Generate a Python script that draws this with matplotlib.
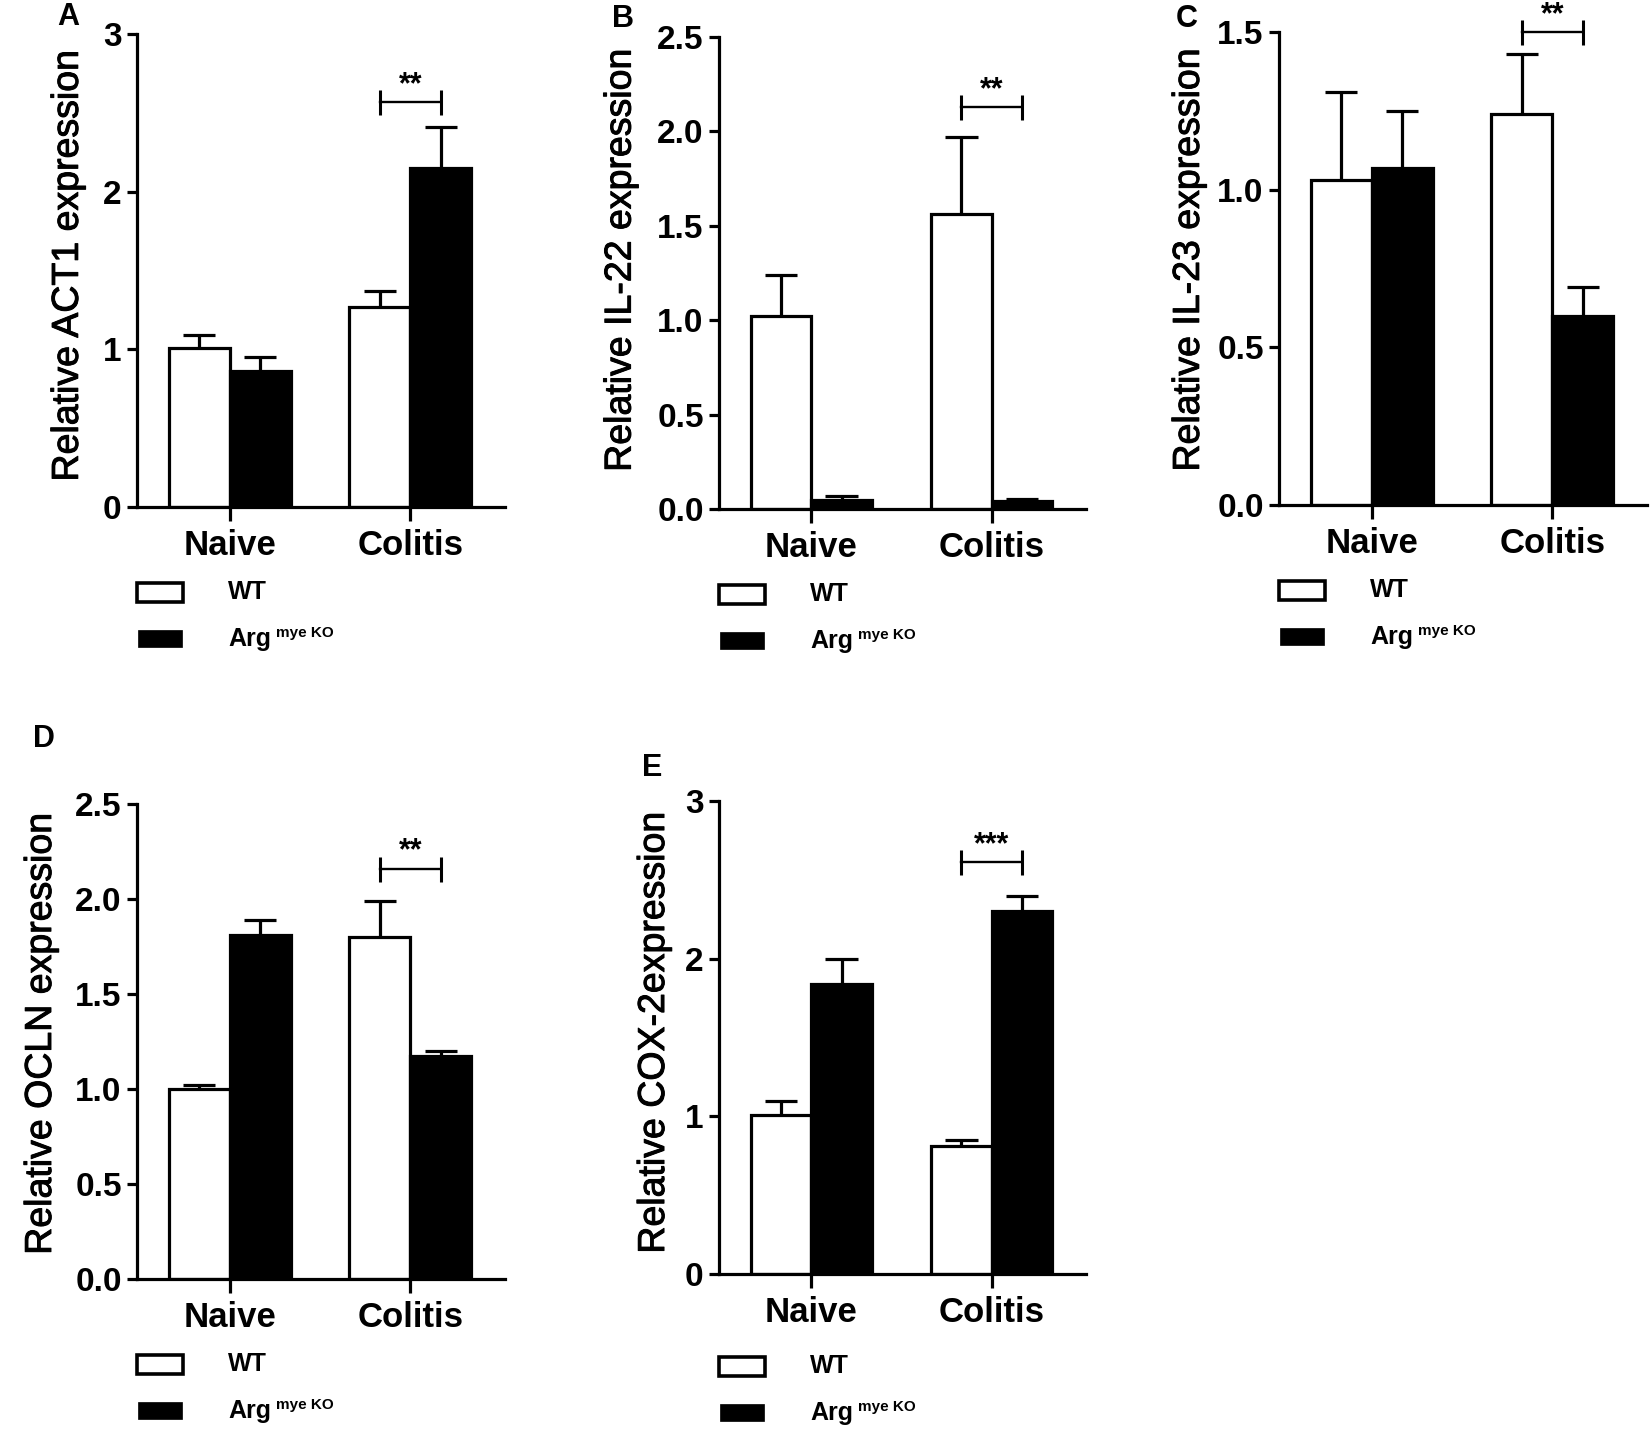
import matplotlib
matplotlib.use("Agg")
import matplotlib.pyplot as plt
import matplotlib.patheffects as pe
import numpy as np
from matplotlib.patches import Rectangle

plt.rcParams['font.family'] = ['Liberation Sans', 'DejaVu Sans']

groups = ['Naive', 'Colitis']
series = ['WT', 'Arg']

# panel A - ACT1
act1_wt = [1.01, 1.27]
act1_wt_err = [0.08, 0.10]
act1_ko = [0.86, 2.15]
act1_ko_err = [0.09, 0.26]

# panel B - IL-22
il22_wt = [1.02, 1.56]
il22_wt_err = [0.22, 0.41]
il22_ko = [0.05, 0.045]
il22_ko_err = [0.02, 0.01]

# panel C - IL-23
il23_wt = [1.03, 1.24]
il23_wt_err = [0.28, 0.19]
il23_ko = [1.07, 0.60]
il23_ko_err = [0.18, 0.09]

# panel D - OCLN
ocln_wt = [1.00, 1.80]
ocln_wt_err = [0.02, 0.19]
ocln_ko = [1.81, 1.175]
ocln_ko_err = [0.08, 0.025]

# panel E - COX-2
cox2_wt = [1.01, 0.81]
cox2_wt_err = [0.09, 0.04]
cox2_ko = [1.84, 2.30]
cox2_ko_err = [0.16, 0.10]

W, H = 1650, 1430
fig = plt.figure(figsize=(W / 100, H / 100), dpi=100)


def px_axes(l, r, t, b):
    return fig.add_axes([l / W, 1 - b / H, (r - l) / W, (b - t) / H])


def draw_panel(box, letter, letter_xy, wt, wt_err, ko, ko_err, ylab, ytop, ystep,
               fmt, lab_xy, sig, bracket_y):
    ax = px_axes(*box)
    x = np.arange(len(groups))
    bw = 0.337
    ax.bar(x - bw / 2, wt, bw, color='white', edgecolor='black', linewidth=2.3, zorder=2)
    ax.bar(x + bw / 2, ko, bw, color='black', edgecolor='black', linewidth=2.3, zorder=2)
    cw = 0.09
    for xs, v, e in [(x - bw / 2, wt, wt_err), (x + bw / 2, ko, ko_err)]:
        v = np.array(v)
        e = np.array(e)
        ax.vlines(xs, v, v + e, color='black', lw=2.3, zorder=1)
        ax.hlines(v + e, xs - cw, xs + cw, color='black', lw=2.3, zorder=1)

    ax.set_xlim(-0.512, 1.523)
    ax.set_ylim(0, ytop)
    ticks = np.arange(0, ytop + ystep / 2, ystep)
    ax.set_yticks(ticks)
    ax.set_yticklabels([fmt.format(t) for t in ticks], fontsize=24, fontweight='bold')
    ax.set_xticks(x)
    ax.set_xticklabels(groups, fontsize=25, fontweight='bold')
    for s in ['top', 'right']:
        ax.spines[s].set_visible(False)
    for s in ['left', 'bottom']:
        ax.spines[s].set_linewidth(2.3)
    ax.tick_params(axis='y', length=7, width=2.3, pad=4)
    ax.tick_params(axis='x', length=10, width=2.3, pad=6)
    lab = ax.set_ylabel(ylab, fontsize=27)
    lab.set_path_effects([pe.withStroke(linewidth=0.7, foreground='black')])
    ax.yaxis.set_label_coords(*lab_xy)

    # significance bracket over colitis pair
    ax.plot([1 - 0.17, 1 + 0.17], [bracket_y, bracket_y], color='black', lw=1.7,
            marker='|', ms=18, mew=2.2, clip_on=False)
    ax.annotate(sig, (1, bracket_y), xytext=(0, 6.5), textcoords='offset points',
                ha='center', va='baseline', fontsize=22, fontweight='bold',
                annotation_clip=False)

    fig.text(letter_xy[0] / W, 1 - letter_xy[1] / H, letter, fontsize=22,
             fontweight='bold', ha='center', va='center')
    return ax


def draw_legend(l, b):
    fig.add_artist(Rectangle((l / W, 1 - (b + 95) / H), 46 / W, 19 / H,
                             transform=fig.transFigure, facecolor='white',
                             edgecolor='black', linewidth=2.6))
    fig.add_artist(Rectangle(((l + 1) / W, 1 - (b + 140) / H), 44 / W, 17 / H,
                             transform=fig.transFigure, facecolor='black',
                             edgecolor='black', linewidth=0.5))
    fig.text((l + 91) / W, 1 - (b + 85) / H, series[0], fontsize=18,
             fontweight='bold', va='center', ha='left')
    fig.text((l + 91) / W, 1 - (b + 132) / H, series[1], fontsize=18,
             fontweight='bold', va='center', ha='left')
    fig.text((l + 139) / W, 1 - (b + 126) / H, 'mye KO', fontsize=11,
             fontweight='bold', va='center', ha='left')


panels = [
    ((137, 505, 34, 507), 'A', (68, 17), act1_wt, act1_wt_err, act1_ko, act1_ko_err,
     'Relative ACT1 expression', 3, 1, '{:.0f}', (-0.139, 0.51), '**', 2.57),
    ((719, 1086, 37, 509), 'B', (623, 19), il22_wt, il22_wt_err, il22_ko, il22_ko_err,
     'Relative IL-22 expression', 2.5, 0.5, '{:.1f}', (-0.219, 0.527), '**', 2.13),
    ((1279, 1647, 32, 505), 'C', (1187, 19), il23_wt, il23_wt_err, il23_ko, il23_ko_err,
     'Relative IL-23 expression', 1.5, 0.5, '{:.1f}', (-0.196, 0.518), '**', 1.50),
    ((137, 505, 804, 1279), 'D', (44, 739), ocln_wt, ocln_wt_err, ocln_ko, ocln_ko_err,
     'Relative OCLN expression', 2.5, 0.5, '{:.1f}', (-0.212, 0.516), '**', 2.16),
    ((719, 1086, 801, 1274), 'E', (652, 768), cox2_wt, cox2_wt_err, cox2_ko, cox2_ko_err,
     'Relative COX-2expression', 3, 1, '{:.0f}', (-0.128, 0.51), '***', 2.61),
]

for p in panels:
    draw_panel(*p)

draw_legend(137, 507)
draw_legend(719, 509)
draw_legend(1279, 505)
draw_legend(137, 1279)
draw_legend(719, 1281)

fig.savefig('out.png', dpi=100)
